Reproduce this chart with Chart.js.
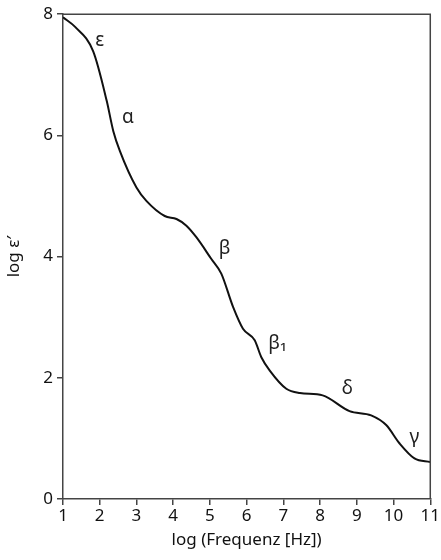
<!DOCTYPE html>
<html>
<head>
<meta charset="utf-8">
<script src="https://cdn.jsdelivr.net/npm/chart.js@4/dist/chart.umd.min.js"></script>
<style>
  html, body { margin: 0; padding: 0; background: #fff; }
  #wrap { width: 441px; height: 560px; }
</style>
</head>
<body>
<div id="wrap"><canvas id="grafico" width="441" height="560"></canvas></div>
<script>
// log frequency (x) and log eps' (y)
const logFreq = [1.00, 1.33, 1.82, 2.19, 2.37, 2.55, 3.00, 3.27, 3.77, 4.09, 4.36, 4.63, 5.04, 5.31, 5.63, 5.90, 6.22, 6.40, 6.63, 7.08, 7.45, 8.07, 8.80, 9.39, 9.80, 10.16, 10.57, 11.00];
const logEps  = [7.95, 7.79, 7.39, 6.57, 6.07, 5.74, 5.14, 4.92, 4.67, 4.62, 4.51, 4.32, 3.96, 3.72, 3.17, 2.81, 2.62, 2.34, 2.12, 1.82, 1.75, 1.71, 1.45, 1.38, 1.22, 0.92, 0.67, 0.61];

// relaxation labels next to the curve
const relaxNames = ['ε', 'α', 'β', 'β₁', 'δ', 'γ'];
const relaxX     = [2.0, 2.77, 5.40, 6.84, 8.74, 10.57];
const relaxY     = [7.56, 6.29, 4.13, 2.57, 1.83, 1.02];

const FONT = '"Noto Sans", sans-serif';
const AXIS_COLOR = '#444';

// frame on top and right + the greek labels
const extras = {
  id: 'extras',
  afterDraw(chart) {
    const { ctx, chartArea, scales } = chart;
    ctx.save();
    ctx.strokeStyle = AXIS_COLOR;
    ctx.lineWidth = 1.5;
    ctx.beginPath();
    ctx.moveTo(chartArea.left, chartArea.top);
    ctx.lineTo(chartArea.right, chartArea.top);
    ctx.lineTo(chartArea.right, chartArea.bottom);
    ctx.stroke();

    ctx.fillStyle = '#222';
    ctx.font = '19px ' + FONT;
    ctx.textAlign = 'center';
    ctx.textBaseline = 'middle';
    for (let i = 0; i < relaxNames.length; i++) {
      ctx.fillText(relaxNames[i], scales.x.getPixelForValue(relaxX[i]), scales.y.getPixelForValue(relaxY[i]));
    }
    ctx.restore();
  }
};

const pontos = logFreq.map((f, i) => ({ x: f, y: logEps[i] }));

new Chart(document.getElementById('grafico'), {
  type: 'line',
  data: {
    datasets: [{
      data: pontos,
      borderColor: '#111',
      borderWidth: 2,
      pointRadius: 0,
      cubicInterpolationMode: 'monotone',
      fill: false
    }]
  },
  options: {
    responsive: false,
    animation: false,
    layout: { padding: { top: 13, right: 10, left: 0, bottom: 6 } },
    plugins: { legend: { display: false }, tooltip: { enabled: false } },
    scales: {
      x: {
        type: 'linear',
        min: 1, max: 11,
        afterFit(scale) { scale.height = 55; },
        border: { color: AXIS_COLOR, width: 1.5 },
        grid: { drawOnChartArea: false, drawTicks: true, tickLength: 6, color: AXIS_COLOR, lineWidth: 1.5 },
        ticks: { stepSize: 1, color: '#111', font: { family: FONT, size: 17 }, padding: 1, maxRotation: 0 },
        title: { display: true, text: 'log (Frequenz [Hz])', color: '#111', font: { family: FONT, size: 17 }, padding: { top: 0 } }
      },
      y: {
        min: 0, max: 8,
        afterFit(scale) { scale.width = 63; },
        border: { color: AXIS_COLOR, width: 1.5 },
        grid: { drawOnChartArea: false, drawTicks: true, tickLength: 6, color: AXIS_COLOR, lineWidth: 1.5 },
        ticks: { stepSize: 2, color: '#111', font: { family: FONT, size: 17 }, padding: 4 },
        title: { display: true, text: 'log ε′', color: '#111', font: { family: FONT, size: 17 }, padding: { bottom: 2 } }
      }
    }
  },
  plugins: [extras]
});
</script>
</body>
</html>
